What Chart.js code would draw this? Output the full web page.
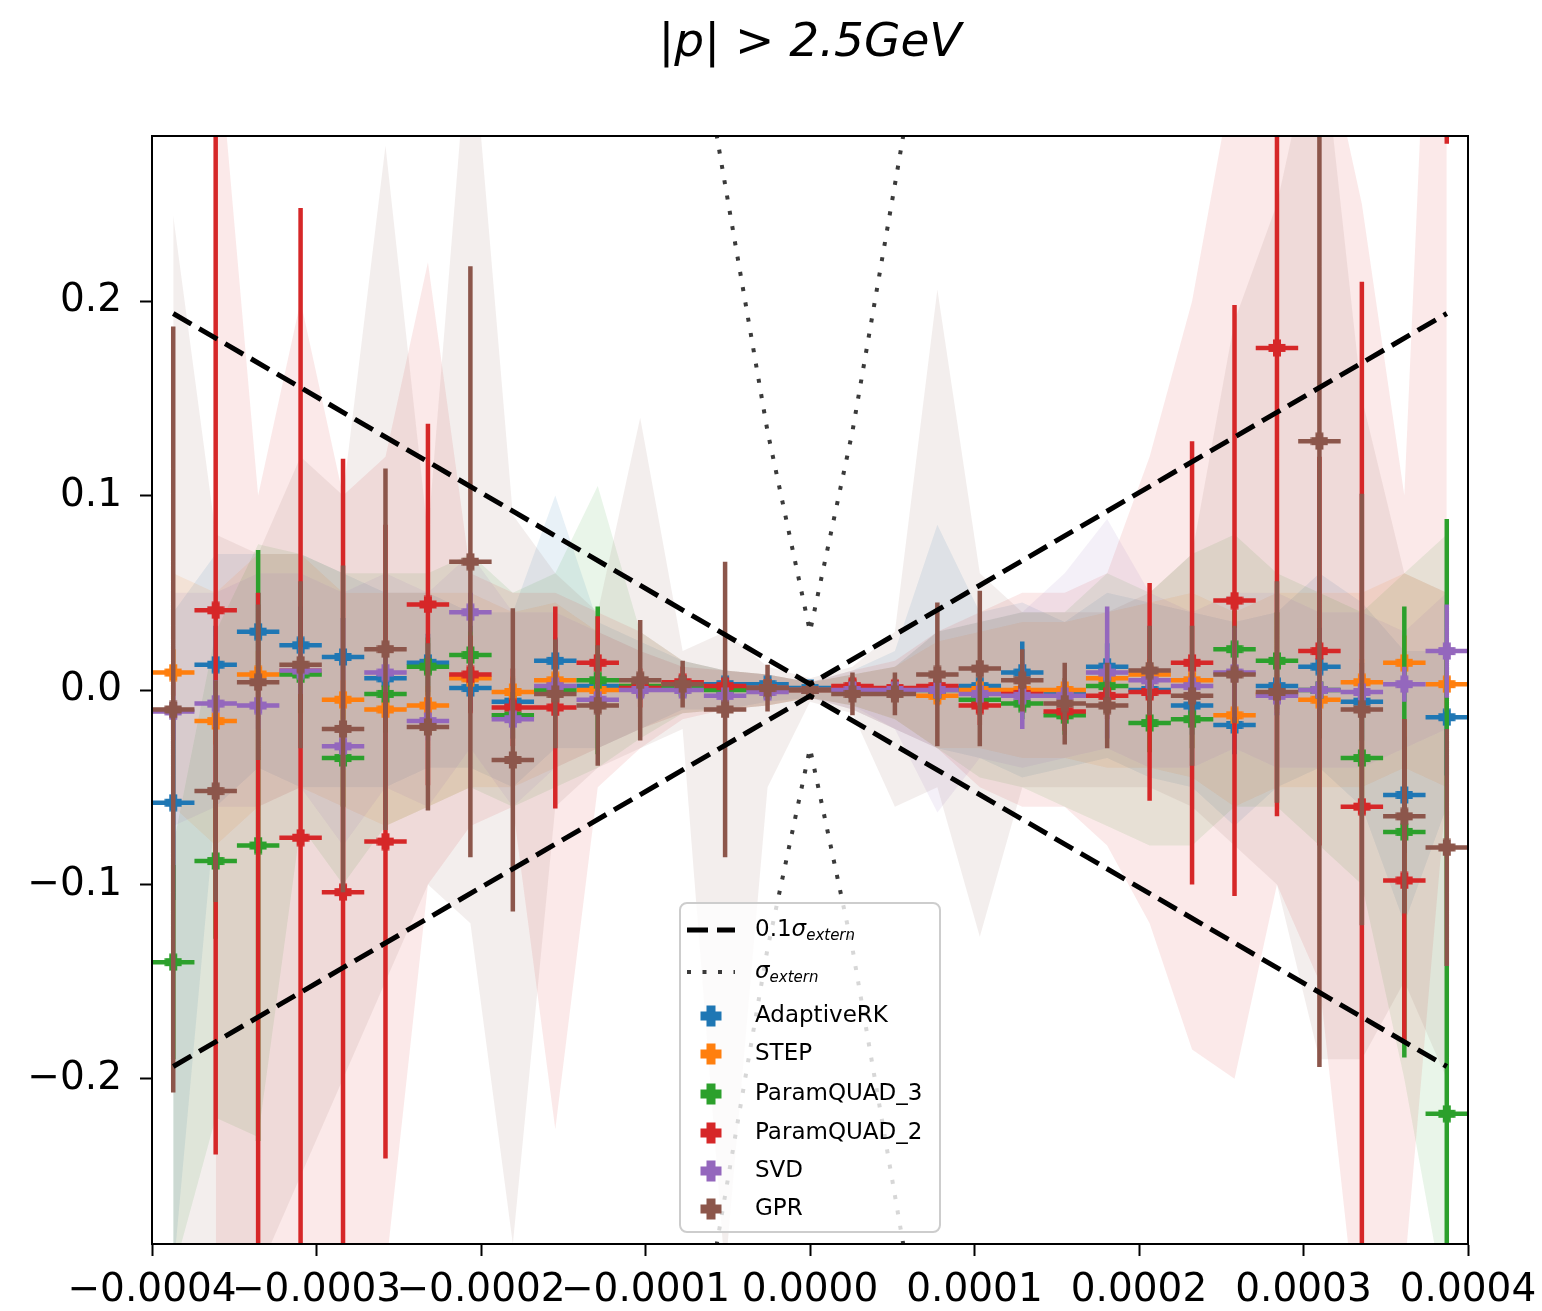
<!DOCTYPE html>
<html>
<head>
<meta charset="utf-8">
<script src="https://cdn.jsdelivr.net/npm/chart.js@4.4.1/dist/chart.umd.min.js"></script>
<style>html,body{margin:0;padding:0;background:#fff;}canvas{display:block;}</style>
</head>
<body>
<canvas id="c" width="1542" height="1311"></canvas>
<script>
// ---------------- data ----------------
const xMin = -0.0004, xMax = 0.0004, nBins = 31;
const binCenters = Array.from({length: nBins}, (_, k) => xMin + (k + 0.5) * (xMax - xMin) / nBins);
const xHalfWidth = (xMax - xMin) / nBins / 2;
const xTicks = [-0.0004, -0.0003, -0.0002, -0.0001, 0, 0.0001, 0.0002, 0.0003, 0.0004];
const yTicks = [-0.2, -0.1, 0, 0.1, 0.2];
const titleText = '|p| > 2.5GeV';
const seriesNames = ['AdaptiveRK', 'STEP', 'ParamQUAD_3', 'ParamQUAD_2', 'SVD', 'GPR'];

const adaptiveRK    = [-0.058, 0.013, 0.030, 0.023, 0.017, 0.006, 0.014, 0.001, -0.006, 0.015, 0.002, 0.001, 0.003, 0.003, 0.003, 0.001, 0.001, 0.000, 0.001, 0.002, 0.009, -0.002, 0.012, 0.000, -0.008, -0.018, 0.002, 0.012, -0.006, -0.054, -0.014];
const adaptiveRKErr = [0.05, 0.02, 0.02, 0.02, 0.02, 0.015, 0.015, 0.012, 0.012, 0.012, 0.008, 0.006, 0.004, 0.004, 0.003, 0.002, 0.003, 0.004, 0.005, 0.006, 0.016, 0.008, 0.012, 0.012, 0.015, 0.015, 0.015, 0.02, 0.02, 0.03, 0.03];
const adaptiveRKHi  = [0.04, 0.07, 0.07, 0.07, 0.06, 0.05, 0.05, 0.04, 0.04, 0.10, 0.035, 0.025, 0.015, 0.01, 0.008, 0.004, 0.01, 0.02, 0.085, 0.04, 0.045, 0.035, 0.05, 0.045, 0.04, 0.035, 0.04, 0.06, 0.045, 0.02, 0.02];
const adaptiveRKLo  = [-0.30, -0.06, -0.04, -0.05, -0.05, -0.05, -0.04, -0.04, -0.05, -0.03, -0.03, -0.02, -0.01, -0.01, -0.006, -0.004, -0.01, -0.02, -0.03, -0.035, -0.045, -0.04, -0.035, -0.045, -0.05, -0.07, -0.05, -0.04, -0.06, -0.12, -0.06];

const step    = [0.009, -0.016, 0.008, 0.010, -0.005, -0.010, -0.008, 0.006, -0.001, 0.005, 0.000, 0.002, 0.002, 0.001, 0.001, 0.000, 0.001, 0.000, -0.003, 0.000, 0.000, 0.000, 0.006, 0.008, 0.005, -0.013, -0.002, -0.005, 0.004, 0.014, 0.003];
const stepErr = [0.012, 0.012, 0.012, 0.012, 0.01, 0.01, 0.01, 0.008, 0.008, 0.008, 0.006, 0.005, 0.004, 0.003, 0.003, 0.002, 0.003, 0.003, 0.005, 0.005, 0.006, 0.006, 0.008, 0.008, 0.01, 0.01, 0.01, 0.01, 0.012, 0.014, 0.014];
const stepHi  = [0.06, 0.05, 0.07, 0.07, 0.05, 0.05, 0.05, 0.05, 0.04, 0.045, 0.03, 0.02, 0.012, 0.01, 0.008, 0.004, 0.008, 0.012, 0.025, 0.03, 0.035, 0.035, 0.04, 0.045, 0.05, 0.04, 0.05, 0.05, 0.05, 0.06, 0.05];
const stepLo  = [-0.06, -0.08, -0.06, -0.05, -0.06, -0.07, -0.06, -0.05, -0.05, -0.04, -0.03, -0.02, -0.012, -0.01, -0.008, -0.004, -0.008, -0.015, -0.03, -0.03, -0.035, -0.035, -0.04, -0.04, -0.045, -0.06, -0.05, -0.05, -0.05, -0.04, -0.05];

const paramQuad3    = [-0.140, -0.088, -0.080, 0.008, -0.035, -0.002, 0.012, 0.018, -0.013, 0.000, 0.005, 0.002, 0.001, 0.000, 0.000, 0.000, 0.000, 0.000, 0.000, -0.005, -0.007, -0.013, 0.002, -0.017, -0.015, 0.021, 0.015, 0.000, -0.035, -0.073, -0.218];
const paramQuad3Err = [0.05, 0.04, 0.152, 0.02, 0.025, 0.02, 0.015, 0.015, 0.012, 0.012, 0.038, 0.006, 0.004, 0.003, 0.003, 0.002, 0.003, 0.004, 0.006, 0.008, 0.008, 0.01, 0.012, 0.015, 0.015, 0.02, 0.025, 0.025, 0.03, 0.116, 0.306];
const paramQuad3Hi  = [-0.08, 0.03, 0.075, 0.07, 0.06, 0.06, 0.06, 0.07, 0.05, 0.06, 0.105, 0.03, 0.015, 0.01, 0.008, 0.004, 0.008, 0.012, 0.03, 0.035, 0.04, 0.04, 0.06, 0.05, 0.07, 0.08, 0.06, 0.05, 0.04, 0.06, 0.08];
const paramQuad3Lo  = [-0.30, -0.22, -0.23, -0.07, -0.10, -0.07, -0.06, -0.05, -0.06, -0.05, -0.04, -0.025, -0.012, -0.01, -0.008, -0.004, -0.008, -0.015, -0.03, -0.045, -0.05, -0.06, -0.07, -0.08, -0.08, -0.06, -0.06, -0.08, -0.10, -0.20, -0.32];

const paramQuad2    = [null, 0.041, -0.35, -0.076, -0.104, -0.078, 0.044, 0.008, -0.009, -0.009, 0.014, 0.001, 0.004, 0.002, 0.001, 0.000, 0.002, 0.001, 0.002, -0.008, -0.002, -0.011, -0.003, -0.001, 0.014, 0.046, 0.176, 0.020, -0.060, -0.098, 0.50];
const paramQuad2Err = [null, 0.28, 0.40, 0.324, 0.223, 0.163, 0.093, 0.02, 0.02, 0.052, 0.024, 0.01, 0.008, 0.005, 0.004, 0.002, 0.005, 0.005, 0.006, 0.01, 0.01, 0.01, 0.012, 0.056, 0.114, 0.152, 0.241, 0.10, 0.27, 0.083, 0.219];
const paramQuad2Hi  = [null, 0.35, 0.10, 0.20, 0.10, 0.12, 0.22, 0.06, 0.05, 0.05, 0.04, 0.03, 0.015, 0.01, 0.008, 0.004, 0.01, 0.015, 0.03, 0.04, 0.05, 0.05, 0.06, 0.12, 0.20, 0.32, 0.40, 0.35, 0.25, 0.10, 0.60];
const paramQuad2Lo  = [null, -0.30, -0.40, -0.30, -0.32, -0.30, -0.10, -0.07, -0.06, -0.226, -0.05, -0.03, -0.015, -0.01, -0.008, -0.004, -0.01, -0.02, -0.03, -0.05, -0.06, -0.06, -0.08, -0.12, -0.185, -0.20, -0.10, -0.15, -0.35, -0.30, -0.05];

const svd    = [-0.011, -0.007, -0.008, 0.010, -0.029, 0.009, -0.016, 0.040, -0.015, 0.002, -0.005, 0.000, 0.000, -0.003, -0.001, 0.000, 0.000, 0.000, 0.000, -0.002, -0.003, -0.003, 0.009, 0.005, 0.002, 0.009, -0.003, 0.000, -0.001, 0.003, 0.020];
const svdErr = [0.015, 0.012, 0.012, 0.012, 0.012, 0.01, 0.01, 0.01, 0.01, 0.008, 0.008, 0.005, 0.004, 0.003, 0.003, 0.002, 0.003, 0.004, 0.005, 0.006, 0.017, 0.008, 0.034, 0.008, 0.008, 0.023, 0.01, 0.01, 0.01, 0.009, 0.024];
const svdHi  = [0.05, 0.05, 0.06, 0.06, 0.05, 0.06, 0.05, 0.07, 0.04, 0.04, 0.03, 0.02, 0.012, 0.01, 0.008, 0.004, 0.008, 0.012, 0.03, 0.035, 0.04, 0.06, 0.088, 0.05, 0.04, 0.05, 0.05, 0.04, 0.04, 0.03, 0.05];
const svdLo  = [-0.07, -0.06, -0.06, -0.05, -0.08, -0.05, -0.06, -0.03, -0.06, -0.04, -0.03, -0.02, -0.012, -0.01, -0.008, -0.004, -0.008, -0.02, -0.063, -0.035, -0.04, -0.035, -0.03, -0.04, -0.04, -0.03, -0.04, -0.04, -0.04, -0.03, -0.02];

const gpr    = [-0.010, -0.052, 0.004, 0.013, -0.020, 0.021, -0.019, 0.066, -0.036, -0.002, -0.008, 0.005, 0.003, -0.010, 0.001, 0.000, -0.002, -0.002, 0.008, 0.011, 0.005, -0.007, -0.008, 0.010, -0.003, 0.008, -0.001, 0.128, -0.010, -0.065, -0.081];
const gprErr = [0.197, 0.057, 0.04, 0.043, 0.084, 0.093, 0.043, 0.152, 0.078, 0.028, 0.031, 0.031, 0.012, 0.076, 0.012, 0.005, 0.011, 0.011, 0.037, 0.04, 0.016, 0.021, 0.022, 0.023, 0.036, 0.025, 0.057, 0.322, 0.111, 0.05, 0.061];
const gprHi  = [0.244, 0.08, 0.07, 0.12, 0.10, 0.28, 0.08, 0.35, 0.09, 0.06, 0.04, 0.14, 0.02, 0.03, 0.012, 0.006, 0.012, 0.03, 0.206, 0.06, 0.04, 0.04, 0.04, 0.05, 0.07, 0.19, 0.25, 0.35, 0.15, 0.06, 0.05];
const gprLo  = [-0.30, -0.30, -0.30, -0.25, -0.20, -0.15, -0.10, -0.12, -0.285, -0.06, -0.04, -0.03, -0.02, -0.30, -0.05, -0.006, -0.012, -0.06, -0.05, -0.127, -0.05, -0.05, -0.05, -0.05, -0.06, -0.08, -0.10, -0.19, -0.19, -0.15, -0.20];

// reference curves (bin index, value)
const sigmaIdx     = [12, 13, 14, 15, 16, 17, 18];
const sigmaExtern  = [0.388, 0.26, 0.133, 0.03, 0.133, 0.26, 0.388];
const tenthIdx     = [0, 15, 30];
const tenthSigma   = [0.1937, 0.003, 0.1937];

// ---------------- styling ----------------
const colors = ['#1f77b4', '#ff7f0e', '#2ca02c', '#d62728', '#9467bd', '#8c564b'];
const series = [
  {val: adaptiveRK, err: adaptiveRKErr, hi: adaptiveRKHi, lo: adaptiveRKLo},
  {val: step, err: stepErr, hi: stepHi, lo: stepLo},
  {val: paramQuad3, err: paramQuad3Err, hi: paramQuad3Hi, lo: paramQuad3Lo},
  {val: paramQuad2, err: paramQuad2Err, hi: paramQuad2Hi, lo: paramQuad2Lo},
  {val: svd, err: svdErr, hi: svdHi, lo: svdLo},
  {val: gpr, err: gprErr, hi: gprHi, lo: gprLo}
];
function rgba(hex, a) {
  const n = parseInt(hex.slice(1), 16);
  return `rgba(${(n >> 16) & 255},${(n >> 8) & 255},${n & 255},${a})`;
}
function plusMarker(color, size, arm) {
  const c = document.createElement('canvas');
  c.width = size; c.height = size;
  const g = c.getContext('2d');
  const h = size / 2, a = arm / 2;
  g.fillStyle = color;
  g.fillRect(h - a, 0.5, arm, size - 1);
  g.fillRect(0.5, h - a, size - 1, arm);
  return c;
}
const plotMarkers = colors.map(c => plusMarker(c, 18, 8));
const legendMarkers = colors.map(c => plusMarker(c, 22, 9));

const FONT = 'DejaVu Sans';
const datasets = [];
series.forEach((s, i) => {
  const hiIndex = datasets.length;
  datasets.push({
    type: 'line', label: seriesNames[i] + ' band',
    data: binCenters.map((x, k) => ({x, y: s.hi[k]})),
    borderWidth: 0, pointRadius: 0, tension: 0,
    backgroundColor: rgba(colors[i], 0.1),
    fill: {target: hiIndex + 1}, order: 300 - i
  });
  datasets.push({
    type: 'line', label: seriesNames[i] + ' band low',
    data: binCenters.map((x, k) => ({x, y: s.lo[k]})),
    borderWidth: 0, pointRadius: 0, tension: 0, fill: false, order: 300 - i
  });
});
series.forEach((s, i) => {
  const vData = [], hData = [], pData = [];
  binCenters.forEach((x, k) => {
    const v = s.val[k];
    if (v === null) return;
    const e = s.err[k];
    vData.push({x, y: v - e}, {x, y: v + e}, {x, y: null});
    hData.push({x: x - xHalfWidth, y: v}, {x: x + xHalfWidth, y: v}, {x: x + xHalfWidth, y: null});
    pData.push({x, y: v});
  });
  const base = 100 - 3 * i;
  datasets.push({type: 'line', label: seriesNames[i] + ' yerr', data: vData, borderColor: colors[i],
    borderWidth: 4.5, pointRadius: 0, spanGaps: false, fill: false, order: base, clip: 0, borderCapStyle: 'butt'});
  datasets.push({type: 'line', label: seriesNames[i] + ' xerr', data: hData, borderColor: colors[i],
    borderWidth: 4.5, pointRadius: 0, spanGaps: false, fill: false, order: base - 1, clip: 0, borderCapStyle: 'butt'});
  datasets.push({type: 'line', label: seriesNames[i], data: pData, showLine: false,
    pointStyle: plotMarkers[i], pointRadius: 9, pointHoverRadius: 9, order: base - 2, clip: 0});
});
[1, -1].forEach(sign => {
  datasets.push({type: 'line', label: '0.1 sigma', data: tenthIdx.map((k, j) => ({x: binCenters[k], y: sign * tenthSigma[j]})),
    borderColor: '#000', borderWidth: 5, borderDash: [21, 9], pointRadius: 0, fill: false, order: 10, clip: 0, tension: 0});
  datasets.push({type: 'line', label: 'sigma extern', data: sigmaIdx.map((k, j) => ({x: binCenters[k], y: sign * sigmaExtern[j]})),
    borderColor: '#3a3a3a', borderWidth: 4, borderDash: [4, 11.5], pointRadius: 0, fill: false, order: 11, clip: 0, tension: 0});
});

function fmtX(v) {
  if (Math.abs(v) < 1e-12) return '0.0000';
  return (v < 0 ? '\u2212' : '') + Math.abs(v).toFixed(4);
}
function fmtY(v) {
  if (Math.abs(v) < 1e-12) return '0.0';
  return (v < 0 ? '\u2212' : '') + Math.abs(v).toFixed(1);
}

const titlePlacement = {
  id: 'titlePlacement',
  afterLayout(chart) {
    if (chart.titleBlock) {
      chart.titleBlock.left = chart.chartArea.left;
      chart.titleBlock.right = chart.chartArea.right;
    }
  }
};
const framePlugin = {
  id: 'frame',
  afterDraw(chart) {
    const {ctx, chartArea: a} = chart;
    ctx.save();
    ctx.strokeStyle = '#000'; ctx.lineWidth = 2;
    ctx.strokeRect(a.left, a.top, a.right - a.left, a.bottom - a.top);
    ctx.restore();
  }
};
function drawParts(ctx, parts, x, y) {
  parts.forEach(p => {
    ctx.font = p.font;
    ctx.fillText(p.t, x, y + (p.dy || 0));
    x += ctx.measureText(p.t).width;
  });
}
const legendPlugin = {
  id: 'mplLegend',
  afterDatasetsDraw(chart) {
    const ctx = chart.ctx;
    ctx.save();
    const bx = 680, by = 903, bw = 260, bh = 329;
    ctx.beginPath();
    ctx.roundRect(bx, by, bw, bh, 7);
    ctx.fillStyle = 'rgba(255,255,255,0.8)';
    ctx.fill();
    ctx.lineWidth = 2; ctx.strokeStyle = 'rgba(205,205,205,1)';
    ctx.stroke();
    const sx0 = 687, sx1 = 735, mx = 711, tx = 755;
    const rows = [930, 972, 1016, 1054, 1094, 1133, 1171, 1209];
    ctx.lineCap = 'butt';
    ctx.strokeStyle = '#000'; ctx.lineWidth = 5; ctx.setLineDash([21, 9]);
    ctx.beginPath(); ctx.moveTo(sx0, rows[0]); ctx.lineTo(sx1, rows[0]); ctx.stroke();
    ctx.strokeStyle = '#3a3a3a'; ctx.lineWidth = 4; ctx.setLineDash([4, 11.5]);
    ctx.beginPath(); ctx.moveTo(sx0, rows[1]); ctx.lineTo(sx1, rows[1]); ctx.stroke();
    ctx.setLineDash([]);
    ctx.fillStyle = '#000';
    ctx.textBaseline = 'middle'; ctx.textAlign = 'left';
    drawParts(ctx, [
      {t: '0.1', font: `23px "${FONT}"`},
      {t: 'σ', font: `italic 23px "${FONT}"`},
      {t: 'extern', font: `italic 15px "${FONT}"`, dy: 6}
    ], tx, rows[0]);
    drawParts(ctx, [
      {t: 'σ', font: `italic 23px "${FONT}"`},
      {t: 'extern', font: `italic 15px "${FONT}"`, dy: 6}
    ], tx, rows[1]);
    seriesNames.forEach((name, i) => {
      const y = rows[i + 2];
      const m = legendMarkers[i];
      ctx.drawImage(m, mx - m.width / 2, y - m.height / 2);
      ctx.fillStyle = '#000';
      ctx.font = `23px "${FONT}"`;
      ctx.fillText(name, tx, y);
    });
    ctx.restore();
  }
};

Chart.defaults.font.family = FONT;
new Chart(document.getElementById('c'), {
  type: 'line',
  data: {datasets},
  options: {
    responsive: false,
    animation: false,
    devicePixelRatio: 1,
    events: [],
    layout: {padding: {left: 0, right: 74, top: 0, bottom: 0}},
    plugins: {
      legend: {display: false},
      tooltip: {enabled: false},
      title: {
        display: true, text: titleText, color: '#000',
        font: {family: FONT, size: 47, style: 'italic', weight: 'normal', lineHeight: 1.2},
        padding: {top: 16, bottom: 63.6}
      }
    },
    scales: {
      x: {
        type: 'linear', min: xMin, max: xMax,
        afterBuildTicks: sc => { sc.ticks = xTicks.map(v => ({value: v})); },
        afterFit: sc => { sc.height = 67; sc.paddingLeft = 0; sc.paddingRight = 0; },
        ticks: {callback: v => fmtX(v), color: '#000', font: {family: FONT, size: 39}, padding: 11,
          maxRotation: 0, minRotation: 0, autoSkip: false},
        grid: {drawOnChartArea: false, drawTicks: true, tickLength: 12, tickWidth: 2, tickColor: '#000'},
        border: {display: true, color: '#000', width: 2}
      },
      y: {
        type: 'linear', min: -0.285, max: 0.285,
        afterBuildTicks: sc => { sc.ticks = yTicks.map(v => ({value: v})); },
        afterFit: sc => { sc.width = 152; sc.paddingTop = 0; sc.paddingBottom = 0; },
        ticks: {callback: v => fmtY(v), color: '#000', font: {family: FONT, size: 39}, padding: 18},
        grid: {drawOnChartArea: false, drawTicks: true, tickLength: 12, tickWidth: 2, tickColor: '#000'},
        border: {display: true, color: '#000', width: 2}
      }
    }
  },
  plugins: [titlePlacement, legendPlugin, framePlugin]
});
</script>
</body>
</html>
